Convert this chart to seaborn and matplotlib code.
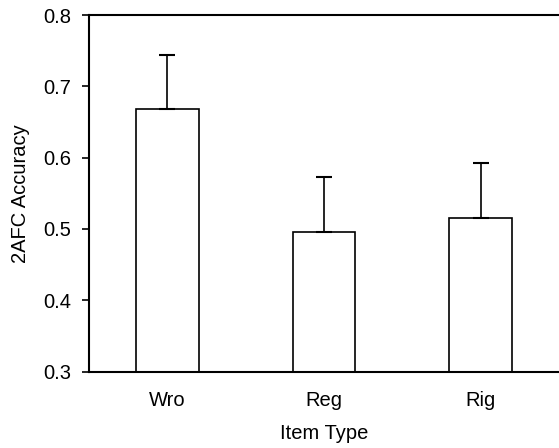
"""2AFC accuracy by item type, bar chart with upper error bars."""
import matplotlib
matplotlib.use('Agg')
import matplotlib.pyplot as plt
import pandas as pd
import seaborn as sns

# data
item_types = ['Wro', 'Reg', 'Rig']
accuracy = [0.668, 0.496, 0.515]
error_upper = [0.076, 0.077, 0.078]

sns.set_style('white')
plt.rcParams['font.family'] = ['Liberation Sans', 'DejaVu Sans']

df = pd.DataFrame({'Item Type': item_types, '2AFC Accuracy': accuracy})

fig = plt.figure(figsize=(5.59, 4.48), dpi=100)
ax = fig.add_axes([89 / 559, 1 - 371.5 / 448, 1 - 89 / 559, (371.5 - 15) / 448])

sns.barplot(data=df, x='Item Type', y='2AFC Accuracy', color='white',
            edgecolor='black', linewidth=1.2, width=0.4, errorbar=None, ax=ax)

# upper-only error bars
ax.errorbar(range(len(item_types)), accuracy,
            yerr=[[0] * len(item_types), error_upper],
            fmt='none', ecolor='black', elinewidth=1.2, capsize=6,
            capthick=1.5, zorder=1)

ax.set_ylim(0.3, 0.8)
ax.set_xlim(-0.5, 2.5)
ax.set_yticks([0.3, 0.4, 0.5, 0.6, 0.7, 0.8])
ax.set_yticklabels(['0.3', '0.4', '0.5', '0.6', '0.7', '0.8'])

ax.spines['right'].set_visible(False)
for side in ['left', 'bottom', 'top']:
    ax.spines[side].set_color('black')
    ax.spines[side].set_linewidth(1.5)

ax.tick_params(axis='y', left=True, length=5, width=1.2, direction='out',
               labelsize=14.5, pad=8, colors='black')
ax.tick_params(axis='x', bottom=False, length=0, labelsize=14.5, pad=14,
               colors='black')

ax.set_xlabel('Item Type', fontsize=14.5, labelpad=10, color='black')
ax.set_ylabel('2AFC Accuracy', fontsize=14.5, labelpad=9, color='black')

fig.savefig('out.png', dpi=100)
